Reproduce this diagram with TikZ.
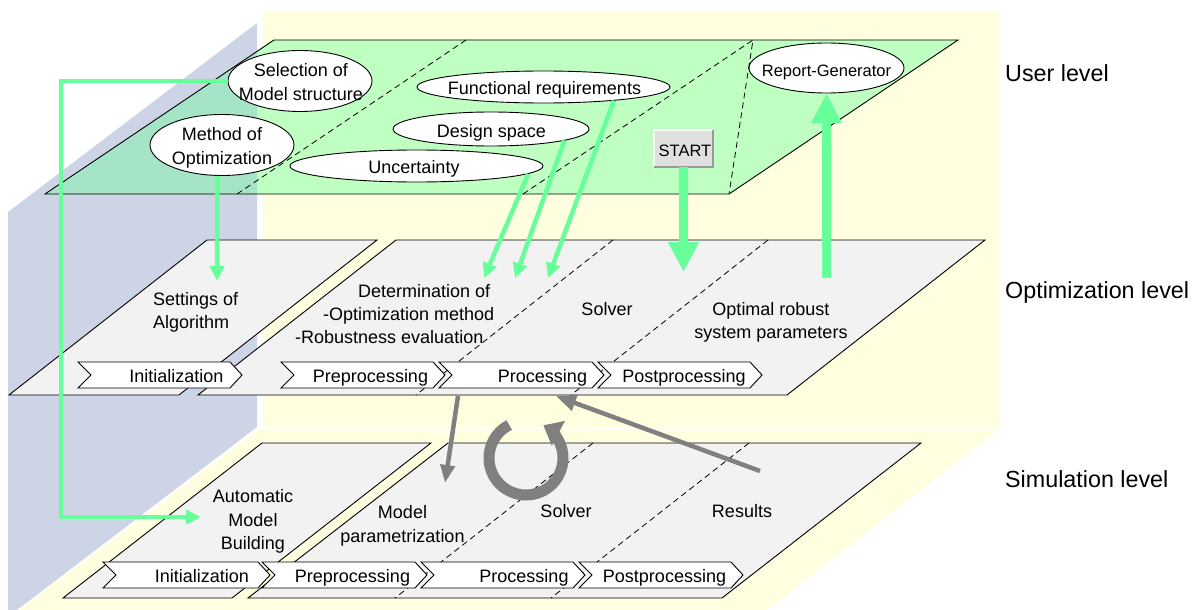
\documentclass[tikz,border=0pt]{standalone}
\usepackage{fontspec}
\setmainfont{Liberation Sans}
\usetikzlibrary{arrows.meta,shapes.geometric,calc}

\definecolor{wallblue}{RGB}{205,212,230}
\definecolor{wallyellow}{RGB}{255,255,224}
\definecolor{planegreen}{RGB}{192,255,194}
\definecolor{planeteal}{RGB}{166,228,200}
\definecolor{planegray}{RGB}{242,242,242}
\definecolor{arrowgreen}{RGB}{102,255,153}
\definecolor{arrowgray}{RGB}{128,128,128}
\definecolor{btngray}{RGB}{224,224,224}

\newcommand{\chevshape}[3]{%
  \draw[chevbox] (#1,#3) -- (#2,#3) -- ++(12,13) -- ++(-12,13) -- ++({#1-#2},0) -- ++(13,-13) -- cycle;}

\begin{document}
\begin{tikzpicture}[x=1pt,y=-1pt,
  txt/.style={font=\fontsize{18}{22}\selectfont, inner sep=0pt, anchor=base},
  txtl/.style={txt, anchor=base west},
  lvl/.style={font=\fontsize{23.3}{28}\selectfont, inner sep=0pt, anchor=base west},
  plane/.style={draw=black, line width=0.9pt, fill=planegray},
  chevbox/.style={draw=black, line width=0.9pt, fill=white},
  dashline/.style={dash pattern=on 6pt off 4pt, line width=0.8pt},
  ell/.style={ellipse, draw=black, line width=0.9pt, fill=white, inner sep=0pt},
  garrow/.style={draw=arrowgreen, line width=4.5pt, -{Triangle[length=15pt,width=14pt]}},
  bigarrow/.style={draw=arrowgreen, line width=9.5pt, -{Triangle[length=30pt,width=29pt]}},
  grarrow/.style={draw=arrowgray, line width=4.5pt, -{Triangle[length=18pt,width=14pt]}},
]
\useasboundingbox (0,0) rectangle (1203,610);

% background walls
\fill[wallyellow] (263,12) rectangle (999,427);
\fill[wallyellow] (259,429) -- (999,429) -- (767,610) -- (19,610) -- cycle;
\fill[wallblue] (8,212) -- (257,23) -- (257,427) -- (17,610) -- (8,610) -- cycle;

% user level plane
\fill[planegreen] (274,40) -- (958,40) -- (729,194) -- (45,194) -- cycle;
\begin{scope}
  \clip (8,212) -- (257,23) -- (257,427) -- (17,610) -- (8,610) -- cycle;
  \fill[planeteal] (274,40) -- (958,40) -- (729,194) -- (45,194) -- cycle;
\end{scope}
\draw[line width=0.9pt] (274,40) -- (958,40) -- (729,194) -- (45,194) -- cycle;
\draw[dashline] (237,194) -- (466,40);
\draw[dashline] (523,194) -- (753,40) -- (729,194);

% ellipses
\node[ell, minimum width=144pt, minimum height=61pt] (sel) at (300,81) {};
\node[ell, minimum width=144pt, minimum height=61pt] (meth) at (222,145) {};
\node[ell, minimum width=253pt, minimum height=32pt] (unc) at (416.5,166) {};
\node[ell, minimum width=196pt, minimum height=34pt] (ds) at (491,129) {};
\node[ell, minimum width=253pt, minimum height=32pt] (fr) at (543.5,87) {};
\node[ell, minimum width=155pt, minimum height=50pt] (rep) at (826.5,68) {};

\node[txt] (selA) at (301,77) {Selection of};
\node[txt] (selB) at (301,100) {Model structure};
\node[txt] (methA) at (222,140) {Method of};
\node[txt] (methB) at (222,164) {Optimization};
\node[txt] (uncT) at (414,173) {Uncertainty};
\node[txt] (dsT) at (491.5,137) {Design space};
\node[txt] (frT) at (544.5,95) {Functional requirements};
\node[txt, font=\fontsize{16.5}{20}\selectfont] (repT) at (826.5,77) {Report-Generator};

% START button
\node[fill=btngray, minimum width=59pt, minimum height=37pt, inner sep=0pt] (start) at (683.5,148.5) {};
\draw[white, line width=1.5pt] (start.south west) -- (start.north west) -- (start.north east);
\draw[black!40, line width=2pt] (start.north east) -- (start.south east) -- (start.south west);
\node[txt, font=\fontsize{16.5}{20}\selectfont] (startT) at (685,157) {START};

% optimization level planes
\draw[plane] (207,240) -- (377,240) -- (179,395) -- (9,395) -- cycle;
\draw[plane] (396,240) -- (985,240) -- (787,395) -- (198,395) -- cycle;
\draw[dashline] (613,240) -- (416,395);
\draw[dashline] (768,240) -- (571,395);
\chevshape{78}{230}{362}
\chevshape{281}{433}{362}
\chevshape{439}{592}{362}
\chevshape{598}{750}{362}
\node[txt] (oinit) at (176.5,382) {Initialization};
\node[txt] (opre) at (370.5,382) {Preprocessing};
\node[txt] (opro) at (542.5,382) {Processing};
\node[txt] (opost) at (684,382) {Postprocessing};

\node[txtl] (setA) at (153,305) {Settings of};
\node[txtl] (setB) at (153,328) {Algorithm};
\node[txtl] (detA) at (358,297) {Determination of};
\node[txtl] (detB) at (323,320) {-Optimization method};
\node[txtl] (detC) at (295,343) {-Robustness evaluation};
\node[txt] (osolv) at (607,315) {Solver};
\node[txt] (optA) at (771,315) {Optimal robust};
\node[txt] (optB) at (771,338) {system parameters};

% simulation level planes
\draw[plane] (262,443) -- (431,443) -- (232,598) -- (63,598) -- cycle;
\draw[plane] (448,443) -- (921,443) -- (722,598) -- (248,598) -- cycle;
\draw[dashline] (593,443) -- (395,598);
\draw[dashline] (749,443) -- (551,598);
\chevshape{103}{258}{562}
\chevshape{262}{415}{562}
\chevshape{421}{573}{562}
\chevshape{579}{731}{562}
\node[txt] (sinit) at (202,582) {Initialization};
\node[txt] (spre) at (352.5,582) {Preprocessing};
\node[txt] (spro) at (524,582) {Processing};
\node[txt] (spost) at (664.5,582) {Postprocessing};

\node[txt] (ambA) at (253,502) {Automatic};
\node[txt] (ambB) at (253,526) {Model};
\node[txt] (ambC) at (253,549) {Building};
\node[txt] (mpA) at (402.5,518) {Model};
\node[txt] (mpB) at (402.5,542) {parametrization};
\node[txt] (ssolv) at (566,517) {Solver};
\node[txt] (sres) at (742,517) {Results};

% level labels
\node[lvl] (ul) at (1005,81.5) {User level};
\node[lvl] (ol) at (1005,298) {Optimization level};
\node[lvl] (sl) at (1005,487) {Simulation level};

% connector coordinates
\coordinate (corner) at (61,517);
\coordinate (ambin) at (201,517);
\coordinate (setin) at (217,281);
\coordinate (inA) at (484,278);
\coordinate (inB) at (515,278);
\coordinate (inC) at (548,278);
\coordinate (startin) at (683.5,272);
\coordinate (repout) at (826.5,278);
\coordinate (optout) at (458,396);
\coordinate (simin) at (445,483);
\coordinate (resout) at (760,471);
\coordinate (optin) at (556,396);
\coordinate (cyc) at (526,458);

% green arrows
\draw[garrow] (sel.west) -| (corner) -- (ambin);
\draw[garrow] (meth.-99) -- (setin);
\draw[garrow] (unc.-4.85) -- (inA);
\draw[garrow] (ds.-9.5) -- (inB);
\draw[garrow] (fr.-11.6) -- (inC);
\draw[bigarrow] (start.south) -- (startin);
\draw[bigarrow] (repout) -- (rep.south);

% gray arrows
\draw[grarrow] (optout) -- (simin);
\draw[grarrow, -{Triangle[length=20pt,width=16pt]}] (resout) -- (optin);
\draw[draw=arrowgray, line width=11pt, -{Triangle[length=17pt,width=27pt]}]
  (cyc) ++(243:37) arc[start angle=243, end angle=-62, radius=37];
\end{tikzpicture}
\end{document}
